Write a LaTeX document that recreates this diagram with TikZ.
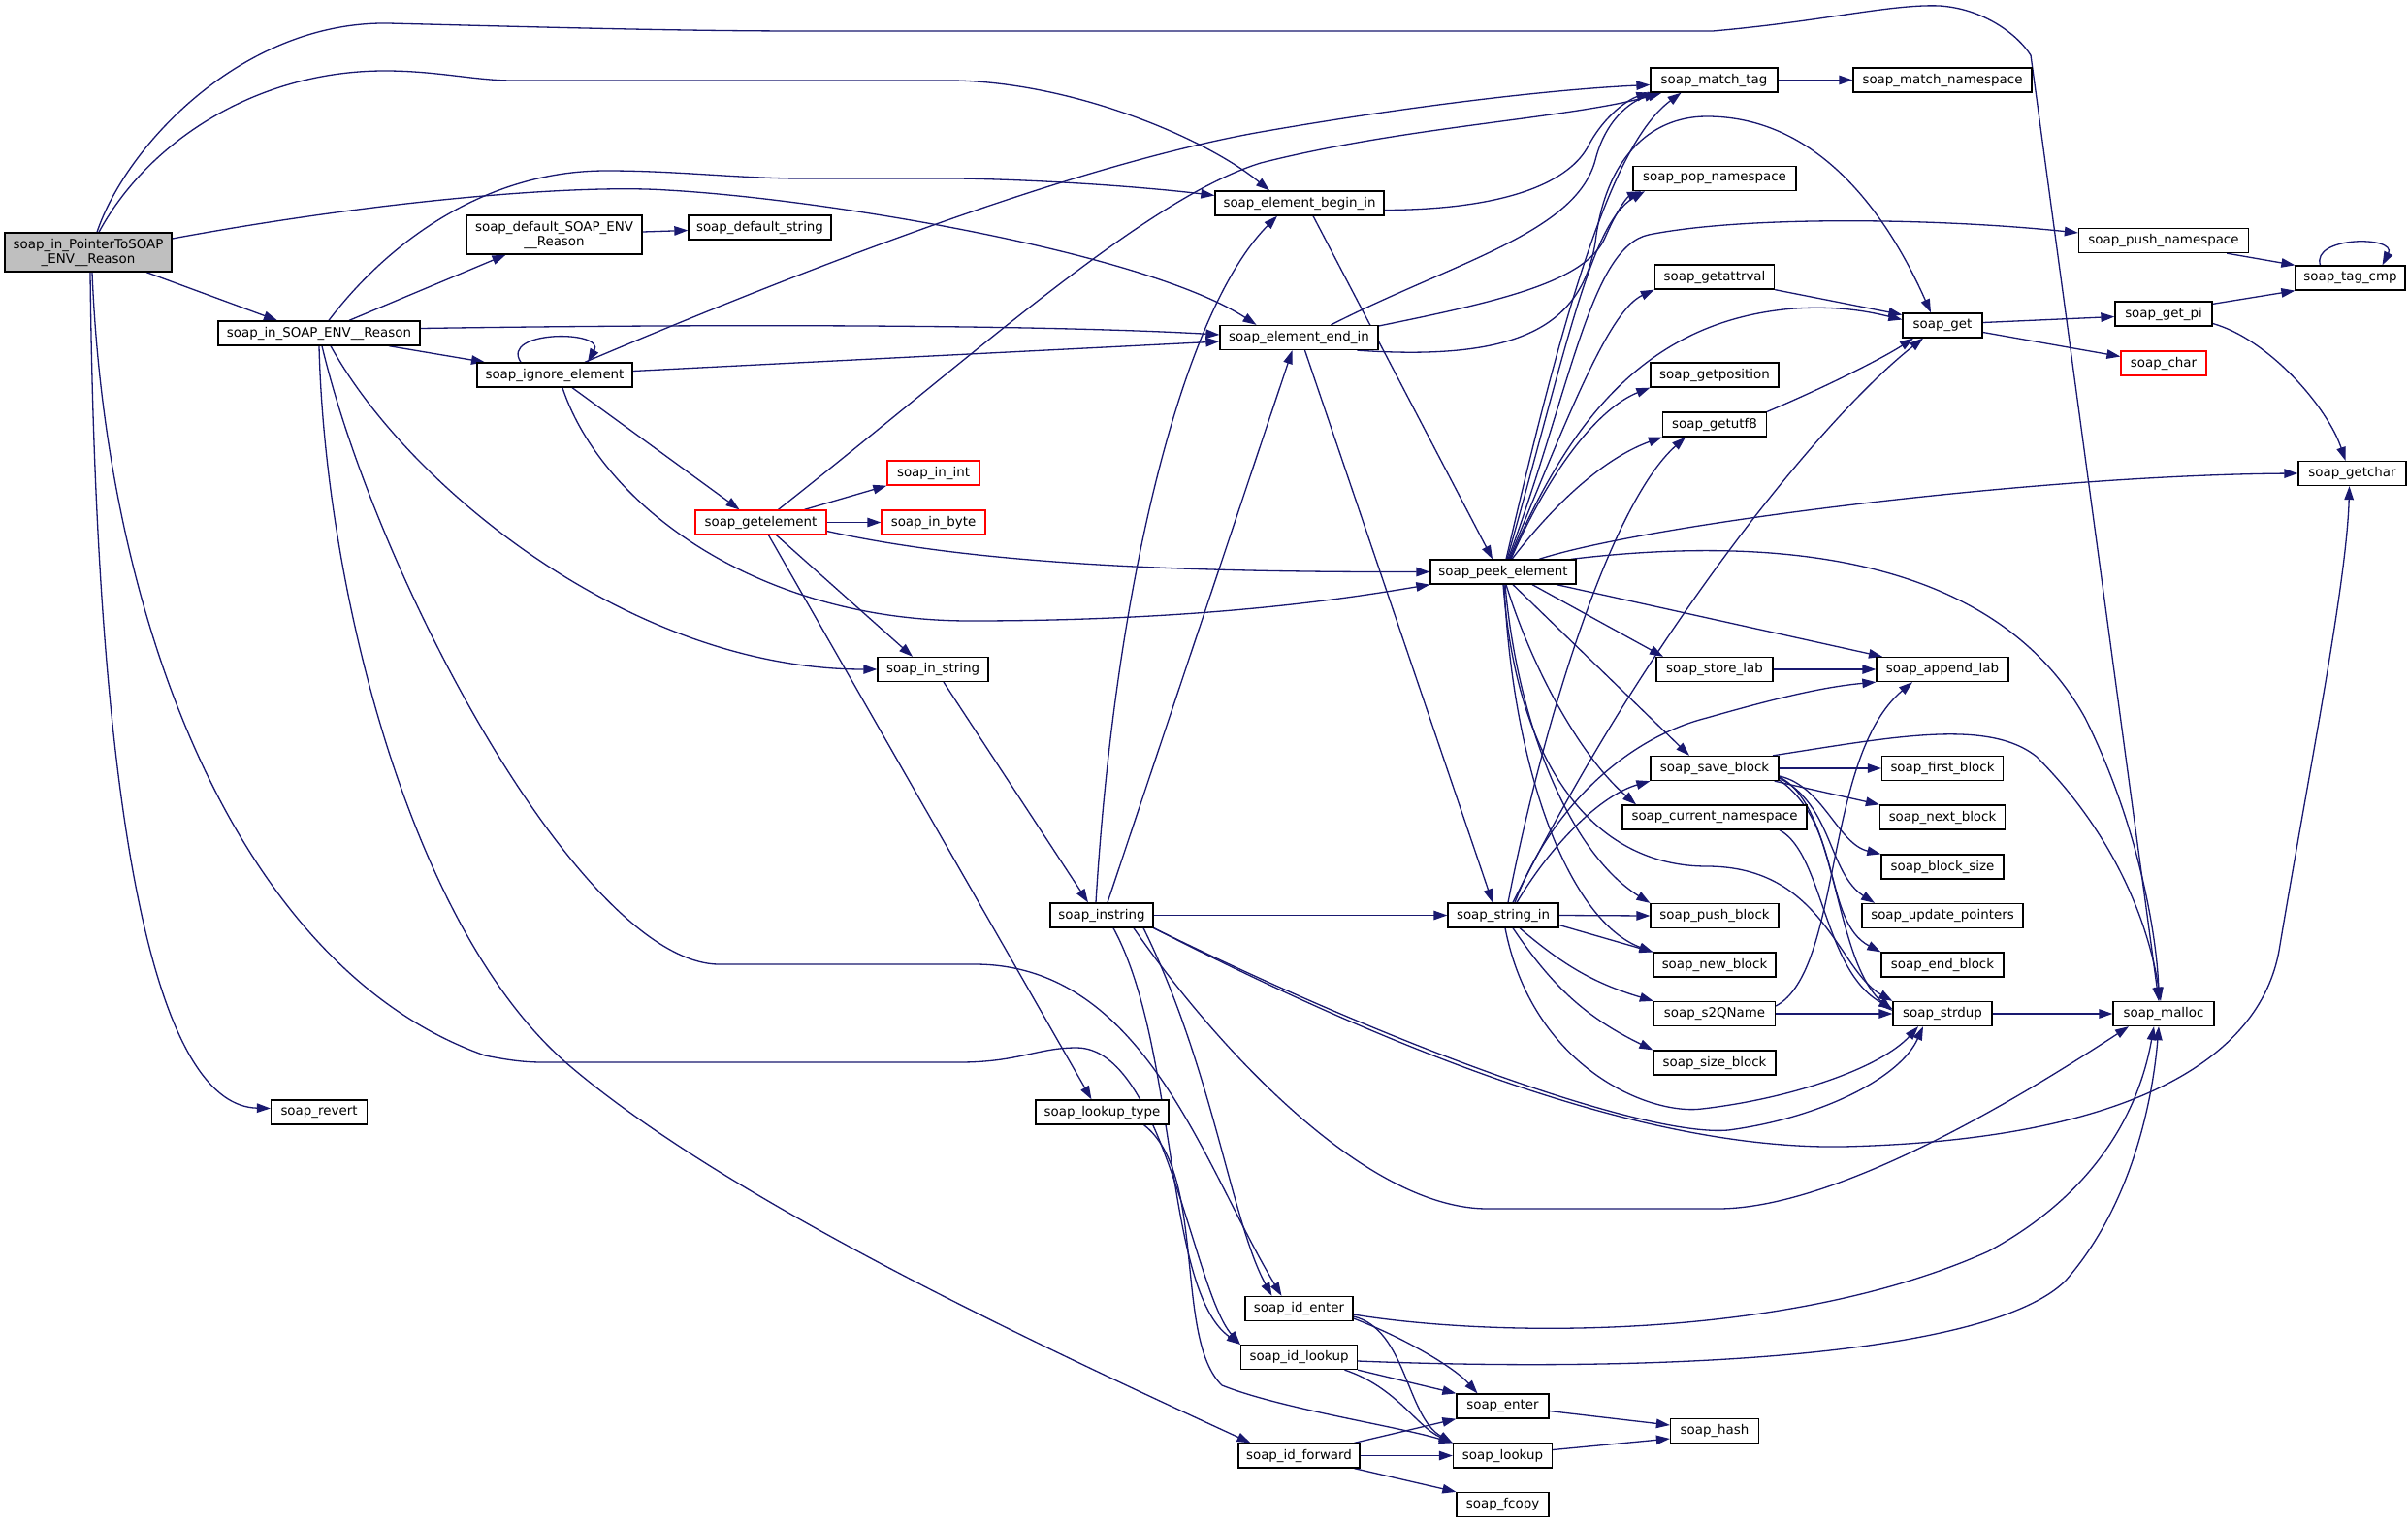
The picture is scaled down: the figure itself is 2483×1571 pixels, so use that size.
\documentclass[tikz,border=0pt]{standalone}
\usepackage{fontspec}
\setmainfont{DejaVu Sans}
\usetikzlibrary{arrows.meta,backgrounds}
\definecolor{edgeblue}{HTML}{191970}
\definecolor{maingray}{HTML}{BFBFBF}

\begin{document}
\begin{tikzpicture}[x=1pt,y=1pt,
	fn/.style={draw=black, fill=white, line width=1.3pt, minimum height=25pt, inner sep=0pt, font=\fontsize{13.4}{15}\selectfont},
	fnred/.style={fn, draw=red},
	fnmain/.style={fn, fill=maingray, minimum height=40pt, align=center},
	wid/.style={minimum width=#1pt},
	call/.style={draw=edgeblue, line width=1.3pt, -{Triangle[length=14pt,width=9.5pt]}}]
	\useasboundingbox (0,0) rectangle (2483,-1571);
	% functions
	\node[fnmain, wid=172] (inptr) at (91,-260) {soap\_in\_PointerToSOAP\\\_ENV\_\_Reason};
	\node[fn, wid=208] (inreason) at (329,-343.5) {soap\_in\_SOAP\_ENV\_\_Reason};
	\node[fn, wid=181, minimum height=40pt, align=center] (defreason) at (571.5,-242) {soap\_default\_SOAP\_ENV\\\_\_Reason};
	\node[fn, wid=147] (defstr) at (783.5,-234.5) {soap\_default\_string};
	\node[fn, wid=160] (ignore) at (572,-386.5) {soap\_ignore\_element};
	\node[fnred, wid=135] (getelem) at (784.5,-538.5) {soap\_getelement};
	\node[fnred, wid=95] (inint) at (962.5,-487.5) {soap\_in\_int};
	\node[fnred, wid=107] (inbyte) at (962.5,-538.5) {soap\_in\_byte};
	\node[fn, wid=114] (instr) at (962,-690) {soap\_in\_string};
	\node[fn, wid=106] (instring) at (1136,-943.5) {soap\_instring};
	\node[fn, wid=174] (beginin) at (1340,-209.5) {soap\_element\_begin\_in};
	\node[fn, wid=163] (endin) at (1339.5,-348) {soap\_element\_end\_in};
	\node[fn, wid=150] (peek) at (1550,-589.5) {soap\_peek\_element};
	\node[fn, wid=114] (strin) at (1550,-943.5) {soap\_string\_in};
	\node[fn, wid=137] (lookuptype) at (1136.5,-1146.5) {soap\_lookup\_type};
	\node[fn, wid=111] (identer) at (1339.5,-1349) {soap\_id\_enter};
	\node[fn, wid=120] (idlookup) at (1339.5,-1399) {soap\_id\_lookup};
	\node[fn, wid=125] (idforward) at (1339.5,-1500.5) {soap\_id\_forward};
	\node[fn, wid=95] (enter) at (1549.5,-1449.5) {soap\_enter};
	\node[fn, wid=102] (lookup) at (1549.5,-1500.5) {soap\_lookup};
	\node[fn, wid=95] (fcopy) at (1549.5,-1551) {soap\_fcopy};
	\node[fn, wid=91] (hash) at (1768,-1475) {soap\_hash};
	\node[fn, wid=99] (revert) at (329,-1146.5) {soap\_revert};
	\node[fn, wid=131] (matchtag) at (1767.5,-82.5) {soap\_match\_tag};
	\node[fn, wid=184] (matchns) at (2003,-82.5) {soap\_match\_namespace};
	\node[fn, wid=168] (popns) at (1768,-184) {soap\_pop\_namespace};
	\node[fn, wid=175] (pushns) at (2231,-248) {soap\_push\_namespace};
	\node[fn, wid=113] (tagcmp) at (2423.5,-286.5) {soap\_tag\_cmp};
	\node[fn, wid=123] (getattr) at (1768,-285.5) {soap\_getattrval};
	\node[fn, wid=82] (get) at (2003,-335.5) {soap\_get};
	\node[fn, wid=100] (getpi) at (2231,-323.5) {soap\_get\_pi};
	\node[fnred, wid=88] (char) at (2231,-374.5) {soap\_char};
	\node[fn, wid=132] (getpos) at (1768,-386.5) {soap\_getposition};
	\node[fn, wid=107] (getutf) at (1768,-437.5) {soap\_getutf8};
	\node[fn, wid=111] (getchar) at (2425.5,-488) {soap\_getchar};
	\node[fn, wid=120] (storelab) at (1768,-690) {soap\_store\_lab};
	\node[fn, wid=136] (appendlab) at (2003,-690) {soap\_append\_lab};
	\node[fn, wid=132] (saveblk) at (1768,-792) {soap\_save\_block};
	\node[fn, wid=125] (firstblk) at (2003,-792) {soap\_first\_block};
	\node[fn, wid=190] (curns) at (1768,-842.5) {soap\_current\_namespace};
	\node[fn, wid=129] (nextblk) at (2003,-842.5) {soap\_next\_block};
	\node[fn, wid=126] (blksize) at (2003,-893.5) {soap\_block\_size};
	\node[fn, wid=166] (updptr) at (2003,-944) {soap\_update\_pointers};
	\node[fn, wid=132] (pushblk) at (1768,-944) {soap\_push\_block};
	\node[fn, wid=126] (newblk) at (1768,-994.5) {soap\_new\_block};
	\node[fn, wid=126] (endblk) at (2003,-994.5) {soap\_end\_block};
	\node[fn, wid=125] (sqname) at (1768,-1045) {soap\_s2QName};
	\node[fn, wid=102] (strdup) at (2003,-1045) {soap\_strdup};
	\node[fn, wid=104] (malloc) at (2231,-1045) {soap\_malloc};
	\node[fn, wid=126] (sizeblk) at (1768,-1095.5) {soap\_size\_block};
	\begin{scope}[on background layer]
	\fill[white] (0,0) rectangle (2483,-1571);
	% soap_in_PointerToSOAP_ENV__Reason
	\draw[call] ([xshift=9]inptr.north) .. controls (130,-150) and (250,-22) .. (400,-24) .. controls (560,-28) and (700,-32) .. (830,-32) -- (1766,-32) .. controls (1880,-22) and (1950,-4) .. (2000,-6) .. controls (2045,-9) and (2080,-35) .. (2094,-57) -- ([xshift=-5]malloc.north);
	\draw[call] ([xshift=11]inptr.north) .. controls (150,-150) and (260,-73) .. (397,-73) .. controls (450,-73) and (490,-83) .. (529,-83) -- (978,-83) .. controls (1100,-83) and (1240,-140) .. ([xshift=-31]beginin.north);
	\draw[call] ([yshift=14]inptr.east) .. controls (400,-205) and (600,-190) .. (688,-196) .. controls (850,-205) and (1180,-260) .. ([xshift=-44]endin.north);
	\draw[call] ([xshift=60]inptr.south) -- ([xshift=-43]inreason.north);
	\draw[call] ([xshift=2]inptr.south) .. controls (100,-900) and (170,-1140) .. ([yshift=4]revert.west);
	\draw[call] ([xshift=4]inptr.south) .. controls (110,-650) and (250,-1000) .. (500,-1088) .. controls (530,-1094) and (545,-1095) .. (561,-1095) -- (989,-1095) .. controls (1050,-1095) and (1070,-1080) .. (1110,-1080) .. controls (1200,-1080) and (1230,-1330) .. (idlookup.north west);
	% soap_in_SOAP_ENV__Reason
	\draw[call] ([xshift=10]inreason.north) .. controls (400,-250) and (500,-176) .. (625,-176) .. controls (700,-176) and (760,-184) .. (830,-184) -- (989,-184) .. controls (1100,-186) and (1200,-195) .. ([yshift=8]beginin.west);
	\draw[call] ([xshift=31]inreason.north) -- ([xshift=-50]defreason.south);
	\draw[call] ([yshift=3]defreason.east) -- ([yshift=-3]defstr.west);
	\draw[call] ([yshift=5]inreason.east) .. controls (800,-333) and (1100,-336) .. ([yshift=3]endin.west);
	\draw[call] ([xshift=72]inreason.south) -- ([xshift=-72]ignore.north);
	\draw[call] ([xshift=12]inreason.south) .. controls (420,-500) and (650,-690) .. (instr.west);
	\draw[call] (inreason.south) .. controls (335,-600) and (420,-950) .. (582,-1094) .. controls (750,-1240) and (1100,-1400) .. ([xshift=-50]idforward.north);
	\draw[call] ([xshift=3]inreason.south) .. controls (390,-600) and (600,-990) .. (740,-994) -- (1005,-994) .. controls (1180,-994) and (1240,-1200) .. ([xshift=-18]identer.north);
	% soap_ignore_element
	\draw[call] ([xshift=-35]ignore.north) .. controls (515,-340) and (625,-340) .. ([xshift=34]ignore.north);
	\draw[call] ([xshift=31]ignore.north) .. controls (800,-290) and (1100,-170) .. (1306,-135) .. controls (1450,-110) and (1600,-92) .. ([yshift=-5]matchtag.west);
	\draw[call] ([yshift=4]ignore.east) -- ([yshift=-4]endin.west);
	\draw[call] ([xshift=18]ignore.south) -- ([xshift=-22]getelem.north);
	\draw[call] ([xshift=8]ignore.south) .. controls (620,-520) and (780,-640) .. (1000,-640) .. controls (1250,-640) and (1400,-615) .. (peek.south west);
	% soap_getelement
	\draw[call] ([xshift=18]getelem.north) .. controls (1000,-370) and (1180,-205) .. (1300,-168) .. controls (1450,-130) and (1620,-122) .. ([xshift=-54]matchtag.south);
	\draw[call] ([xshift=45]getelem.north) -- (inint.south west);
	\draw[call] (getelem.east) -- (inbyte.west);
	\draw[call] ([yshift=-9]getelem.east) .. controls (1000,-580) and (1200,-590) .. (peek.west);
	\draw[call] ([xshift=16]getelem.south) -- ([xshift=-21]instr.north);
	\draw[call] ([xshift=8]getelem.south) -- ([xshift=-11]lookuptype.north);
	\draw[call] ([xshift=11]instr.south) -- ([xshift=-14]instring.north);
	% soap_instring
	\draw[call] ([xshift=-6]instring.north) .. controls (1150,-600) and (1220,-320) .. ([xshift=-23]beginin.south);
	\draw[call] ([xshift=6]instring.north) -- ([xshift=-7]endin.south);
	\draw[call] (instring.east) -- (strin.west);
	\draw[call] (instring.south east) .. controls (1450,-1090) and (1700,-1185) .. (1900,-1182) .. controls (2200,-1175) and (2330,-1090) .. (2350,-980) .. controls (2380,-800) and (2420,-600) .. ([xshift=-3]getchar.south);
	\draw[call] ([xshift=33]instring.south) .. controls (1240,-1060) and (1400,-1246) .. (1534,-1246) -- (1771,-1246) .. controls (1900,-1246) and (2100,-1120) .. ([xshift=-36]malloc.south);
	\draw[call] ([xshift=43]instring.south) .. controls (1250,-1100) and (1270,-1260) .. ([xshift=-28]identer.north);
	\draw[call] ([xshift=12]instring.south) .. controls (1215,-1080) and (1200,-1330) .. (idlookup.north west);
	\draw[call] (instring.south east) .. controls (1450,-1085) and (1700,-1172) .. (1782,-1165) .. controls (1880,-1152) and (1960,-1110) .. ([xshift=-20]strdup.south);
	\draw[call] ([xshift=43]lookuptype.south) .. controls (1245,-1210) and (1210,-1380) .. (1260,-1428) .. controls (1320,-1452) and (1440,-1470) .. (lookup.north west);
	% soap_element_begin_in / end_in
	\draw[call] ([yshift=-7]beginin.east) .. controls (1560,-216) and (1620,-185) .. (1638,-150) .. controls (1655,-118) and (1680,-102) .. (matchtag.south west);
	\draw[call] ([xshift=14]beginin.south) -- ([xshift=-11]peek.north);
	\draw[call] ([xshift=33]endin.north) .. controls (1500,-270) and (1625,-240) .. (1645,-165) .. controls (1655,-125) and (1680,-105) .. ([xshift=-58]matchtag.south);
	\draw[call] ([yshift=12]endin.east) .. controls (1550,-310) and (1635,-290) .. (1655,-245) .. controls (1668,-215) and (1678,-203) .. ([xshift=-76]popns.south);
	\draw[call] ([xshift=60]endin.south) .. controls (1560,-372) and (1630,-340) .. (1645,-250) .. controls (1655,-165) and (1700,-120) .. (1760,-120) .. controls (1880,-120) and (1950,-230) .. ([xshift=-12]get.north);
	\draw[call] ([xshift=6]endin.south) -- ([xshift=-11]strin.north);
	% soap_peek_element
	\draw[call] ([xshift=3]peek.north) .. controls (1610,-330) and (1660,-150) .. ([xshift=-34]matchtag.south);
	\draw[call] ([xshift=4]peek.north) .. controls (1615,-360) and (1640,-230) .. ([xshift=-72]popns.south);
	\draw[call] ([xshift=5]peek.north) .. controls (1620,-400) and (1640,-255) .. (1700,-242) .. controls (1800,-222) and (2000,-225) .. ([yshift=8]pushns.west);
	\draw[call] ([xshift=6]peek.north) .. controls (1620,-420) and (1660,-320) .. (getattr.south west);
	\draw[call] ([xshift=7]peek.north) .. controls (1620,-430) and (1700,-330) .. (1850,-318) .. controls (1900,-315) and (1930,-322) .. ([yshift=6]get.west);
	\draw[call] ([xshift=8]peek.north) .. controls (1600,-480) and (1650,-420) .. (getpos.south west);
	\draw[call] ([xshift=9]peek.north) .. controls (1610,-510) and (1660,-470) .. (getutf.south west);
	\draw[call] ([xshift=37]peek.north) .. controls (1700,-540) and (2100,-490) .. (getchar.west);
	\draw[call] ([xshift=70]peek.north) .. controls (1800,-555) and (2050,-560) .. (2150,-740) .. controls (2210,-860) and (2225,-980) .. ([xshift=-5]malloc.north);
	\draw[call] ([xshift=30]peek.south) -- ([xshift=-53]storelab.north);
	\draw[call] ([xshift=55]peek.south) -- ([xshift=-62]appendlab.north);
	\draw[call] ([xshift=10]peek.south) -- ([xshift=-26]saveblk.north);
	\draw[call] ([xshift=3]peek.south) .. controls (1580,-690) and (1630,-780) .. ([xshift=-81]curns.north);
	\draw[call] ([xshift=2]peek.south) .. controls (1565,-750) and (1620,-880) .. (pushblk.north west);
	\draw[call] ([xshift=1]peek.south) .. controls (1560,-800) and (1620,-950) .. (newblk.north west);
	\draw[call] (peek.south) .. controls (1565,-800) and (1650,-893) .. (1760,-893) .. controls (1880,-893) and (1895,-1000) .. (strdup.north west);
	% soap_string_in
	\draw[call] ([xshift=10]strin.north) .. controls (1700,-650) and (1880,-430) .. ([xshift=-20]get.south);
	\draw[call] ([xshift=5]strin.north) .. controls (1590,-750) and (1660,-520) .. ([xshift=-30]getutf.south);
	\draw[call] ([xshift=12]strin.north) .. controls (1600,-830) and (1680,-760) .. (1760,-740) .. controls (1830,-720) and (1880,-708) .. (appendlab.south west);
	\draw[call] ([xshift=14]strin.north) .. controls (1600,-870) and (1650,-820) .. (saveblk.south west);
	\draw[call] (strin.east) -- (pushblk.west);
	\draw[call] ([yshift=-10]strin.east) -- (newblk.north west);
	\draw[call] ([xshift=17]strin.south) to[bend right=12] (sqname.north west);
	\draw[call] ([xshift=10]strin.south) to[bend right=15] (sizeblk.north west);
	\draw[call] ([xshift=2]strin.south) .. controls (1580,-1100) and (1700,-1150) .. (1755,-1143) .. controls (1850,-1132) and (1940,-1100) .. ([xshift=-25]strdup.south);
	% soap_get and friends
	\draw[call] (getattr.south east) -- ([yshift=11]get.west);
	\draw[call] (getutf.north east) .. controls (1880,-400) and (1940,-370) .. ([xshift=-30]get.south);
	\draw[call] ([yshift=3]get.east) -- ([yshift=-3]getpi.west);
	\draw[call] ([yshift=-7]get.east) -- ([yshift=7]char.west);
	\draw[call] ([yshift=-3]getpi.north east) -- (tagcmp.south west);
	\draw[call] ([yshift=-10]getpi.east) .. controls (2340,-350) and (2400,-420) .. ([xshift=-7]getchar.north);
	\draw[call] ([xshift=-23]pushns.south east) -- (tagcmp.north west);
	\draw[call] ([xshift=-31]tagcmp.north) .. controls (2383,-243) and (2472,-243) .. ([xshift=33]tagcmp.north);
	\draw[call] (matchtag.east) -- (matchns.west);
	% labels and blocks
	\draw[call] (storelab.east) -- (appendlab.west);
	\draw[call] (saveblk.east) -- (firstblk.west);
	\draw[call] ([xshift=-5]saveblk.south east) -- (nextblk.north west);
	\draw[call] ([yshift=-8]saveblk.east) .. controls (1880,-810) and (1895,-870) .. (blksize.north west);
	\draw[call] ([yshift=-10]saveblk.east) .. controls (1890,-830) and (1885,-900) .. ([xshift=-70]updptr.north);
	\draw[call] ([yshift=-12]saveblk.east) .. controls (1900,-850) and (1880,-950) .. (endblk.north west);
	\draw[call] ([yshift=-9]saveblk.east) .. controls (1895,-830) and (1890,-990) .. ([yshift=3]strdup.west);
	\draw[call] ([xshift=60]saveblk.north) .. controls (1950,-760) and (2050,-740) .. (2100,-780) .. controls (2180,-860) and (2215,-950) .. ([xshift=-3]malloc.north);
	\draw[call] ([xshift=67]curns.south) .. controls (1880,-880) and (1880,-1000) .. ([yshift=5]strdup.west);
	\draw[call] (sqname.east) -- (strdup.west);
	\draw[call] ([yshift=8]sqname.east) .. controls (1900,-1000) and (1880,-780) .. ([xshift=-31]appendlab.south);
	\draw[call] (strdup.east) -- (malloc.west);
	% ids
	\draw[call] ([yshift=-10]identer.east) .. controls (1450,-1380) and (1500,-1410) .. ([xshift=-26]enter.north);
	\draw[call] ([yshift=-8]identer.east) .. controls (1450,-1370) and (1450,-1460) .. (lookup.north west);
	\draw[call] ([yshift=-6]identer.east) .. controls (1550,-1380) and (1850,-1380) .. (2050,-1290) .. controls (2180,-1220) and (2210,-1120) .. ([xshift=-10]malloc.south);
	\draw[call] (idlookup.south east) -- (enter.north west);
	\draw[call] ([xshift=47]idlookup.south) .. controls (1440,-1430) and (1460,-1470) .. (lookup.north west);
	\draw[call] ([yshift=-4]idlookup.east) .. controls (1700,-1415) and (2050,-1400) .. (2130,-1320) .. controls (2200,-1240) and (2220,-1130) .. ([xshift=-5]malloc.south);
	\draw[call] ([xshift=57]idforward.north) -- (enter.south west);
	\draw[call] (idforward.east) -- (lookup.west);
	\draw[call] ([xshift=57]idforward.south) -- (fcopy.north west);
	\draw[call] ([yshift=-5]enter.east) -- ([yshift=6]hash.west);
	\draw[call] ([yshift=6]lookup.east) -- ([yshift=-8]hash.west);
	\end{scope}
\end{tikzpicture}
\end{document}
